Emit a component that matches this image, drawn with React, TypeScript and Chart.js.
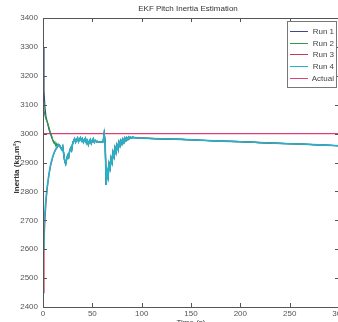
import React, { useEffect, useRef } from "react";
import { Chart, registerables } from "chart.js";
Chart.register(...registerables);

const TITLE = "EKF Pitch Inertia Estimation";
const Y_TITLE = "Inertia (kg.m\u00B2)";
const X_TITLE = "Time (s)";
const X_MIN = 0;
const X_MAX = 300;
const X_STEP = 50;
const Y_MIN = 2400;
const Y_MAX = 3400;
const Y_STEP = 100;

const seriesNames = ["Run 1", "Run 2", "Run 3", "Run 4", "Actual"];
const seriesColors = ["#3a4a8a", "#2f9a48", "#d03848", "#22b2cc", "#e0407a"];

const headTime = [0, 1, 2, 3, 4, 5, 6, 7, 8, 9, 10, 11, 12, 13, 14, 15];
const run1Head = [3300, 3150, 3090, 3060, 3045, 3030, 3015, 3005, 2995, 2985, 2978, 2972, 2965, 2960, 2958, 2962];
const run2Head = [3110, 3080, 3062, 3050, 3042, 3035, 3022, 3010, 3000, 2990, 2975, 2968, 2972, 2958, 2966, 2955];
const run3Head = [2450, 2620, 2700, 2760, 2800, 2830, 2855, 2875, 2895, 2905, 2920, 2930, 2938, 2945, 2950, 2955];
const run4Head = [2600, 2680, 2730, 2775, 2810, 2835, 2860, 2880, 2898, 2910, 2922, 2932, 2940, 2946, 2952, 2958];

const tailTime = [
  16, 17, 18, 19, 20, 21, 22, 23, 24, 25, 26, 27, 28, 29, 30, 31, 32, 33, 34, 35,
  36, 37, 38, 39, 40, 41, 42, 43, 44, 45, 46, 47, 48, 49, 50, 51, 52, 53, 54, 55,
  56, 57, 58, 59, 60, 61, 62, 63, 64, 65, 66, 67, 68, 69, 70, 71, 72, 73, 74, 75,
  76, 77, 78, 79, 80, 81, 82, 83, 84, 85, 86, 87, 88, 89, 90, 91, 92, 93,
  100, 120, 140, 160, 180, 200, 220, 240, 260, 280, 300,
];
const tailValues = [
  2962, 2958, 2950, 2945, 2955, 2930, 2905, 2895, 2912, 2925, 2918, 2940, 2950, 2942, 2965, 2975, 2982, 2970, 2978, 2985,
  2972, 2980, 2986, 2975, 2982, 2970, 2978, 2984, 2968, 2976, 2962, 2974, 2980, 2966, 2975, 2982, 2970, 2976, 2972, 2973,
  2971, 2972, 2970, 2971, 2970, 2972, 3000, 2970, 2822, 2870, 2850, 2895, 2880, 2915, 2900, 2935, 2920, 2950, 2935, 2960,
  2948, 2970, 2958, 2975, 2965, 2980, 2970, 2984, 2976, 2986, 2980, 2988, 2983, 2987, 2985, 2988, 2986, 2986,
  2984, 2982, 2980, 2977, 2974, 2972, 2969, 2966, 2964, 2961, 2958,
];
const actualTime = [0, 300];
const actualValues = [3000, 3000];

const FONT = "'Liberation Sans Narrow', 'Liberation Sans', Arial, sans-serif";

function toPoints(times: number[], values: number[]) {
  return times.map((t, i) => ({ x: t, y: values[i] }));
}

const decorPlugin = {
  id: "decor",
  afterDraw(chart: any) {
    const ctx = chart.ctx;
    const { left, right, top, bottom } = chart.chartArea;
    const xs = chart.scales.x;
    const ys = chart.scales.y;
    ctx.save();
    ctx.strokeStyle = "#555";
    ctx.lineWidth = 1;
    ctx.strokeRect(Math.round(left) + 0.5, Math.round(top) + 0.5, Math.round(right - left), Math.round(bottom - top));
    ctx.beginPath();
    for (let v = X_MIN; v <= X_MAX; v += X_STEP) {
      const px = Math.round(xs.getPixelForValue(v)) + 0.5;
      ctx.moveTo(px, bottom);
      ctx.lineTo(px, bottom - 4);
      ctx.moveTo(px, top);
      ctx.lineTo(px, top + 4);
    }
    for (let v = Y_MIN; v <= Y_MAX; v += Y_STEP) {
      const py = Math.round(ys.getPixelForValue(v)) + 0.5;
      ctx.moveTo(left, py);
      ctx.lineTo(left + 4, py);
      ctx.moveTo(right, py);
      ctx.lineTo(right - 4, py);
    }
    ctx.stroke();
    ctx.fillStyle = "#333";
    ctx.font = `8px ${FONT}`;
    ctx.textAlign = "center";
    ctx.textBaseline = "middle";
    ctx.fillText(TITLE, 188, 9);
    ctx.textBaseline = "top";
    ctx.fillText(X_TITLE, (left + right) / 2, 319);
    ctx.save();
    ctx.translate(17, 167);
    ctx.rotate(-Math.PI / 2);
    ctx.textBaseline = "middle";
    ctx.font = `bold 8px ${FONT}`;
    ctx.fillText(Y_TITLE, 0, 0);
    ctx.restore();
    const bx = 287.5, by = 21.5, bw = 49, bh = 66;
    ctx.fillStyle = "#fff";
    ctx.fillRect(bx, by, bw, bh);
    ctx.strokeStyle = "#777";
    ctx.strokeRect(bx, by, bw, bh);
    ctx.font = `8px ${FONT}`;
    ctx.textAlign = "right";
    ctx.textBaseline = "middle";
    chart.data.datasets.forEach((ds: any, i: number) => {
      const y = Math.round(31 + i * 11.7) + 0.5;
      ctx.strokeStyle = ds.borderColor;
      ctx.lineWidth = 1;
      ctx.beginPath();
      ctx.moveTo(290, y);
      ctx.lineTo(308, y);
      ctx.stroke();
      ctx.fillStyle = "#444";
      ctx.fillText(ds.label, 334, y);
    });
    ctx.restore();
  },
};

export default function App() {
  const ref = useRef<HTMLCanvasElement | null>(null);
  useEffect(() => {
    if (!ref.current) return;
    const runHeads = [run1Head, run2Head, run3Head, run4Head];
    const datasets: any[] = runHeads.map((head, i) => ({
      label: seriesNames[i],
      data: toPoints(headTime.concat(tailTime), head.concat(tailValues)),
      borderColor: seriesColors[i],
      backgroundColor: seriesColors[i],
      borderWidth: i === 3 ? 1.6 : 1.2,
      pointRadius: 0,
      tension: 0,
      order: 3 - i,
    }));
    datasets.push({
      label: seriesNames[4],
      data: toPoints(actualTime, actualValues),
      borderColor: seriesColors[4],
      backgroundColor: seriesColors[4],
      borderWidth: 1.4,
      pointRadius: 0,
      order: 10,
    });
    const chart = new Chart(ref.current, {
      type: "line",
      data: { datasets },
      options: {
        responsive: false,
        animation: false,
        layout: { padding: { top: 18, right: 21, bottom: 0, left: 0 } },
        plugins: { legend: { display: false }, title: { display: false }, tooltip: { enabled: false } },
        scales: {
          x: {
            type: "linear",
            min: X_MIN,
            max: X_MAX,
            grid: { display: false, drawTicks: false },
            border: { display: false },
            ticks: { stepSize: X_STEP, color: "#555", font: { family: FONT, size: 8 }, padding: 2, maxRotation: 0, callback: (v: any) => String(v) },
            afterFit: (s: any) => { s.height = 15; },
          },
          y: {
            type: "linear",
            min: Y_MIN,
            max: Y_MAX,
            grid: { display: false, drawTicks: false },
            border: { display: false },
            ticks: { stepSize: Y_STEP, color: "#555", font: { family: FONT, size: 8 }, padding: 5, callback: (v: any) => String(v) },
            afterFit: (s: any) => { s.width = 43; },
          },
        },
      },
      plugins: [decorPlugin],
    });
    return () => chart.destroy();
  }, []);
  return (
    <div style={{ position: "fixed", left: 0, top: 0, width: 338, height: 322, overflow: "hidden", background: "#fff" }}>
      <canvas ref={ref} width={360} height={322} style={{ display: "block", width: 360, height: 322 }} />
    </div>
  );
}
